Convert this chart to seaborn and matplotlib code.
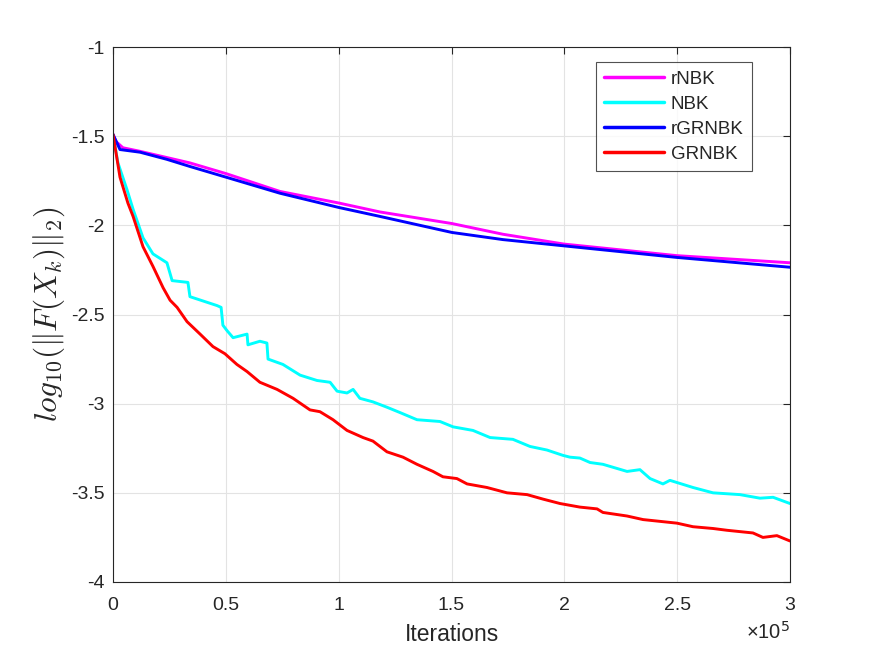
import numpy as np
import pandas as pd
import matplotlib
matplotlib.use("Agg")
import matplotlib.pyplot as plt
import seaborn as sns
from matplotlib.ticker import FuncFormatter, MultipleLocator

# ---- data (iterations in units of 1e5, values = log10 residual) ----
rnbk_x = [0, 0.013, 0.044, 0.120, 0.239, 0.341, 0.501, 0.740, 1.001, 1.183, 1.502, 1.728, 1.998, 2.499, 3.0]
rnbk_y = [-1.49, -1.53, -1.565, -1.585, -1.62, -1.65, -1.71, -1.81, -1.875, -1.925, -1.99, -2.05, -2.105, -2.17, -2.21]

rgrnbk_x = [0, 0.031, 0.120, 0.239, 0.341, 0.501, 0.740, 1.001, 1.183, 1.502, 1.728, 1.998, 2.499, 3.0]
rgrnbk_y = [-1.49, -1.575, -1.59, -1.63, -1.67, -1.73, -1.82, -1.90, -1.95, -2.04, -2.08, -2.115, -2.18, -2.235]

nbk_x = [0, 0.022, 0.062, 0.089, 0.133, 0.177, 0.239, 0.262, 0.332, 0.341, 0.461, 0.479, 0.487,
         0.505, 0.532, 0.594, 0.598, 0.651, 0.682, 0.687, 0.753, 0.829, 0.904, 0.962, 0.993, 1.037,
         1.064, 1.094, 1.152, 1.214, 1.272, 1.347, 1.449, 1.507, 1.595, 1.671, 1.772, 1.848, 1.923,
         1.994, 2.025, 2.069, 2.114, 2.171, 2.278, 2.335, 2.380, 2.437, 2.468, 2.570, 2.659, 2.778,
         2.867, 2.925, 3.0]
nbk_y = [-1.49, -1.65, -1.80, -1.91, -2.07, -2.16, -2.21, -2.31, -2.32, -2.40, -2.45, -2.46, -2.56,
         -2.59, -2.63, -2.61, -2.67, -2.65, -2.66, -2.75, -2.78, -2.84, -2.87, -2.88, -2.93, -2.94,
         -2.92, -2.97, -2.99, -3.02, -3.05, -3.09, -3.10, -3.13, -3.15, -3.19, -3.20, -3.24, -3.26,
         -3.29, -3.30, -3.305, -3.33, -3.34, -3.38, -3.37, -3.42, -3.45, -3.43, -3.47, -3.50, -3.51,
         -3.53, -3.525, -3.56]

grnbk_x = [0, 0.031, 0.066, 0.089, 0.133, 0.177, 0.222, 0.253, 0.284, 0.328, 0.386, 0.443, 0.496,
           0.549, 0.594, 0.651, 0.727, 0.798, 0.873, 0.917, 0.975, 1.037, 1.108, 1.152, 1.214, 1.285,
           1.347, 1.418, 1.462, 1.524, 1.569, 1.657, 1.746, 1.835, 1.905, 1.981, 2.069, 2.145, 2.171,
           2.278, 2.349, 2.424, 2.499, 2.570, 2.659, 2.721, 2.836, 2.880, 2.942, 3.0]
grnbk_y = [-1.49, -1.73, -1.875, -1.95, -2.12, -2.23, -2.35, -2.42, -2.46, -2.54, -2.61, -2.68, -2.72,
           -2.78, -2.82, -2.88, -2.92, -2.97, -3.035, -3.045, -3.09, -3.15, -3.19, -3.21, -3.27, -3.30,
           -3.34, -3.38, -3.41, -3.42, -3.45, -3.47, -3.50, -3.51, -3.535, -3.56, -3.58, -3.59, -3.61,
           -3.63, -3.65, -3.66, -3.67, -3.69, -3.70, -3.71, -3.725, -3.75, -3.74, -3.77]

series_names = ["rNBK", "NBK", "rGRNBK", "GRNBK"]
series_colors = ["#FF00FF", "#00FFFF", "#0000FF", "#FF0000"]

frames = []
for name, xs, ys in [("rNBK", rnbk_x, rnbk_y), ("NBK", nbk_x, nbk_y),
                     ("rGRNBK", rgrnbk_x, rgrnbk_y), ("GRNBK", grnbk_x, grnbk_y)]:
    frames.append(pd.DataFrame({"iter": np.array(xs) * 1e5, "val": ys, "method": name}))
df = pd.concat(frames, ignore_index=True)

sns.set_style("white")
plt.rcParams["font.family"] = ["Liberation Sans", "DejaVu Sans"]
plt.rcParams["axes.unicode_minus"] = False
plt.rcParams["mathtext.fontset"] = "cm"

fig = plt.figure(figsize=(8.72, 6.54), dpi=100)
ax = fig.add_axes([113 / 872, 1 - 582 / 654, (790 - 113) / 872, (582 - 47) / 654])

sns.lineplot(data=df, x="iter", y="val", hue="method", hue_order=series_names,
             palette=dict(zip(series_names, series_colors)), estimator=None, sort=False,
             linewidth=2.1, ax=ax)

ax.set_xlim(0, 3e5)
ax.set_ylim(-4, -1)
ax.xaxis.set_major_locator(MultipleLocator(0.5e5))
ax.yaxis.set_major_locator(MultipleLocator(0.5))
ax.xaxis.set_major_formatter(FuncFormatter(lambda v, p: "%g" % round(v / 1e5, 3)))
ax.yaxis.set_major_formatter(FuncFormatter(lambda v, p: "%g" % round(v, 3)))

txtc = "#262626"
ax.grid(True, color="#e3e3e3", linewidth=0.8)
ax.set_axisbelow(True)
for s in ax.spines.values():
    s.set_visible(True)
    s.set_color(txtc)
    s.set_linewidth(0.8)
ax.tick_params(direction="in", length=5, width=0.8, colors=txtc, labelsize=14,
               top=True, right=True, labelcolor=txtc)
ax.tick_params(axis="x", pad=11)
ax.tick_params(axis="y", pad=6)

ax.set_xlabel("Iterations", fontsize=16.5, color=txtc, labelpad=6)
ax.set_ylabel(r"$log_{10}(\Vert F(X_k)\Vert_2)$", fontsize=22.5, color=txtc, labelpad=3)
ax.text(1.0, -0.072, "×10$^{5}$", transform=ax.transAxes, ha="right", va="top",
        fontsize=14.5, color=txtc, math_fontfamily="dejavusans")

handles, labels = ax.get_legend_handles_labels()
leg = ax.legend(handles, labels, loc="upper right", bbox_to_anchor=(0.944, 0.972),
                fontsize=13.5, frameon=True, fancybox=False, edgecolor=txtc,
                handlelength=3.2, borderpad=0.45, labelspacing=0.42, handletextpad=0.35,
                borderaxespad=0)
leg.get_frame().set_linewidth(0.8)
for line in leg.get_lines():
    line.set_linewidth(2.5)

fig.savefig("out.png", dpi=100)
